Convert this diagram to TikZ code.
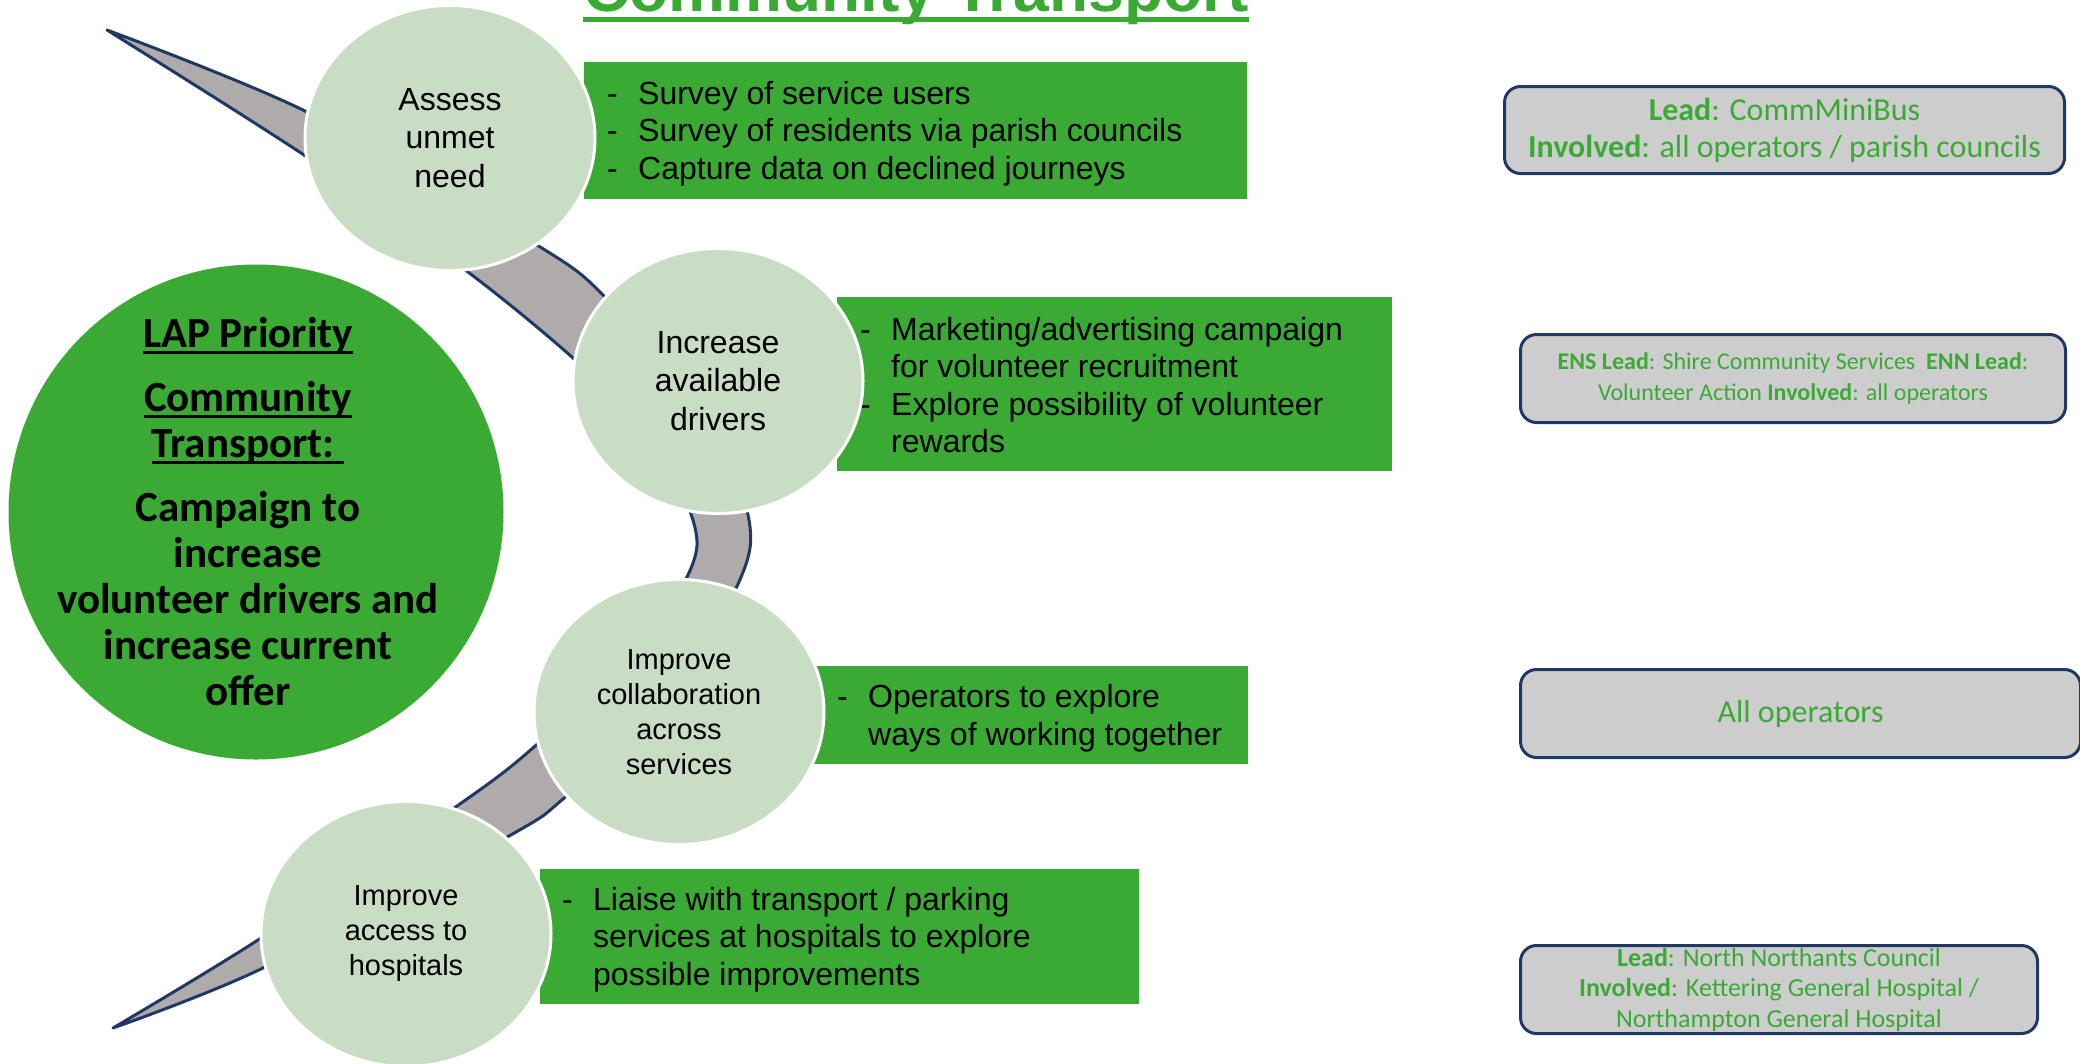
\documentclass[tikz,border=0pt]{standalone}
\usepackage{fontspec}
\setmainfont{Liberation Sans}
\newfontfamily\calfont{Carlito}
\usetikzlibrary{shapes.geometric}

\definecolor{ctgreen}{RGB}{58,170,53}
\definecolor{stagefill}{RGB}{201,220,196}
\definecolor{bandgray}{RGB}{175,171,171}
\definecolor{navy}{RGB}{31,56,100}
\definecolor{ownergray}{RGB}{205,205,205}

\newcommand{\bul}{\makebox[31pt][l]{-}}
\newcommand{\ind}{\hspace*{31pt}}
\newcommand{\lapline}[1]{\setbox0\hbox{#1}\rlap{\rule[-6pt]{\wd0}{3pt}}\box0}

\begin{document}
\begin{tikzpicture}[x=1pt,y=-1pt,
    stage/.style={ellipse, draw=white, line width=3pt, fill=stagefill, minimum width=290pt, minimum height=265pt, inner sep=0pt, align=center, font=\fontsize{32}{38.5}\selectfont},
    stagesmall/.style={stage, font=\fontsize{29}{35}\selectfont},
    actbox/.style={fill=ctgreen, inner sep=0pt, anchor=north west},
    acttext/.style={anchor=west, align=left, inner sep=0pt, yshift=-3pt, font=\fontsize{32}{37.5}\selectfont},
    owner/.style={draw=navy, line width=3pt, fill=ownergray, rounded corners=16pt, anchor=north west, align=center, text=ctgreen, inner sep=0pt}]

    \useasboundingbox (0,0) rectangle (2080,1063);
    \clip (0,0) rectangle (2080,1063);

    % Band
    \draw[fill=bandgray, draw=navy, line width=3pt, line join=round]
        plot[smooth, tension=0.5] coordinates {(107,30) (307,112) (537,245) (604,296) (702,410) (750,548) (660,710) (563,799) (509,836) (263,968) (113,1028)}
        -- plot[smooth, tension=0.5] coordinates {(113,1028) (258,940) (457,806) (534,747) (640,645) (697,545) (650,435) (573,358) (468,272) (307,157) (107,30)}
        -- cycle;

    % Actions
    \node[actbox, minimum width=663pt, minimum height=137pt] (needbox) at (584,62) {};
    \node[acttext] (needtext) at ([xshift=23pt]needbox.west) {\bul Survey of service users\\\bul Survey of residents via parish councils\\\bul Capture data on declined journeys};

    \node[actbox, minimum width=555pt, minimum height=174pt] (driverbox) at (837,297) {};
    \node[acttext, yshift=2pt] (drivertext) at ([xshift=23pt]driverbox.west) {\bul Marketing/advertising campaign\\\ind for volunteer recruitment\\\bul Explore possibility of volunteer\\\ind rewards};

    \node[actbox, minimum width=434pt, minimum height=98pt] (collabbox) at (814,666) {};
    \node[acttext] (collabtext) at ([xshift=23pt]collabbox.west) {\bul Operators to explore\\\ind ways of working together};

    \node[actbox, minimum width=599pt, minimum height=135pt] (accessbox) at (540,869) {};
    \node[acttext] (accesstext) at ([xshift=22pt]accessbox.west) {\bul Liaise with transport / parking\\\ind services at hospitals to explore\\\ind possible improvements};

    % Owners
    \node[owner, minimum width=560pt, minimum height=87pt, font=\calfont\fontsize{32}{37}\selectfont] (needlead) at (1503,85)
        {\textbf{Lead}: CommMiniBus\\\textbf{Involved}: all operators / parish councils};
    \node[owner, minimum width=545pt, minimum height=88pt, font=\calfont\fontsize{24}{31}\selectfont] (driverlead) at (1519,333)
        {\textbf{ENS Lead}: Shire Community Services\ \ \textbf{ENN Lead}:\\Volunteer Action \textbf{Involved}: all operators};
    \node[owner, minimum width=560pt, minimum height=88pt, font=\calfont\fontsize{32}{37}\selectfont] (collablead) at (1519,668)
        {All operators};
    \node[owner, minimum width=517pt, minimum height=88pt, font=\calfont\fontsize{26}{30.5}\selectfont] (accesslead) at (1519,944)
        {\textbf{Lead}: North Northants Council\\\textbf{Involved}: Kettering General Hospital /\\Northampton General Hospital};

    % Stages
    \node[stage] (need) at (450,138) {Assess\\unmet\\need};
    \node[stage] (drivers) at (718,381) {Increase\\available\\drivers};
    \node[stagesmall] (collab) at (679,712) {Improve\\collaboration\\across\\services};
    \node[stagesmall] (access) at (406,934) {Improve\\access to\\hospitals};

    % Priority
    \node[circle, fill=ctgreen, minimum size=495pt, inner sep=0pt] (lap) at (256,512) {};
    \node[align=center, inner sep=0pt, font=\calfont\bfseries\fontsize{43}{46}\selectfont] (laptext) at ([xshift=-8pt]lap.center)
        {\lapline{LAP Priority}\\[18pt]\lapline{Community}\\\lapline{Transport:\ }\\[18pt]Campaign to\\increase\\volunteer drivers and\\increase current\\offer};

    % Title
    \node[font=\bfseries\fontsize{64}{70}\selectfont, text=ctgreen, inner sep=0pt, anchor=base] (title) at (916,11) {Community Transport};
    \draw[ctgreen, line width=5pt] ([yshift=-8pt]title.base west) -- ([yshift=-8pt]title.base east);

\end{tikzpicture}
\end{document}
